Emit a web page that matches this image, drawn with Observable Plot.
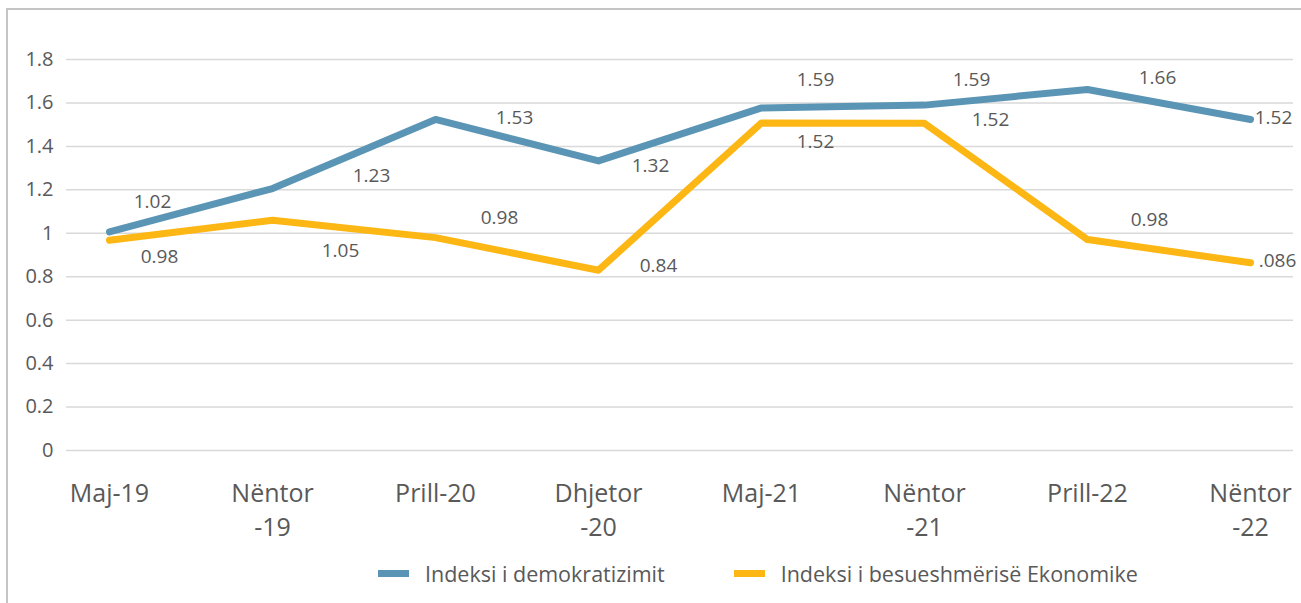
<!DOCTYPE html>
<html>
<head>
<meta charset="utf-8">
<script src="https://cdn.jsdelivr.net/npm/d3@7"></script>
<script src="https://cdn.jsdelivr.net/npm/@observablehq/plot@0.6"></script>
<style>
html, body { margin: 0; padding: 0; background: #fff; overflow: hidden; }
#wrap { position: relative; width: 1301px; height: 603px; overflow: hidden; font-family: "Open Sans", sans-serif; }
#frame { position: absolute; left: 6px; top: 8px; width: 1330px; height: 640px; border: 2.5px solid #c4c4c4; box-sizing: border-box; }
#chart { position: absolute; left: 0; top: 0; }
#legend { position: absolute; left: 378px; top: 559px; height: 28px; display: flex; align-items: center; font-size: 21.5px; color: #595959; white-space: nowrap; }
#legend .sw { width: 31px; height: 7px; display: inline-block; }
</style>
</head>
<body>
<div id="wrap">
  <div id="frame"></div>
  <div id="chart"></div>
  <div id="legend"></div>
</div>
<script>
// ---- data ----
const categories = ["Maj-19", "Nëntor\n-19", "Prill-20", "Dhjetor\n-20", "Maj-21", "Nëntor\n-21", "Prill-22", "Nëntor\n-22"];
const seriesNames = ["Indeksi i demokratizimit", "Indeksi i besueshmërisë Ekonomike"];
const demokratizimi = [1.006, 1.206, 1.524, 1.333, 1.577, 1.59, 1.662, 1.524];
const besueshmeria = [0.968, 1.06, 0.98, 0.83, 1.508, 1.506, 0.971, 0.864];
const demokratizimiLabels = ["1.02", "1.23", "1.53", "1.32", "1.59", "1.59", "1.66", "1.52"];
const besueshmeriaLabels = ["0.98", "1.05", "0.98", "0.84", "1.52", "1.52", "0.98", ".086"];
const yTicks = [0, 0.2, 0.4, 0.6, 0.8, 1, 1.2, 1.4, 1.6, 1.8];
const yTickLabels = ["0", "0.2", "0.4", "0.6", "0.8", "1", "1.2", "1.4", "1.6", "1.8"];

// ---- layout / style (kept apart from data) ----
const colors = ["#5b95b5", "#fdb714"];
const labelOffsets = [
  { dx: [43, 99, 79, 52, 54, 47, 70, 23], dy: [-30, -13, -2, 5, -28, -25, -12, -2] },
  { dx: [50, 68, 64, 60, 54, 66, 62, 27], dy: [17, 31, -20, -4, 19, -3, -20, -2] }
];

const seriesValues = [demokratizimi, besueshmeria];
const seriesLabels = [demokratizimiLabels, besueshmeriaLabels];

const rows = [];
seriesValues.forEach((vals, s) => vals.forEach((v, i) => rows.push({ cat: categories[i], value: v, series: seriesNames[s] })));

const labelMarks = [];
seriesValues.forEach((vals, s) => {
  vals.forEach((v, i) => {
    labelMarks.push(Plot.text([i], {
      x: d => categories[d],
      y: d => seriesValues[s][d],
      text: d => seriesLabels[s][d],
      dx: labelOffsets[s].dx[i],
      dy: labelOffsets[s].dy[i],
      fontSize: 19,
      fill: "#595959"
    }));
  });
});

const chart = Plot.plot({
  width: 1301,
  height: 545,
  marginLeft: 66,
  marginRight: 8,
  marginTop: 59,
  marginBottom: 95,
  style: { fontFamily: "Open Sans, sans-serif", color: "#595959", background: "transparent", overflow: "visible" },
  x: { type: "point", domain: categories, padding: 0.257, label: null },
  y: { domain: [0, 1.8], label: null },
  color: { domain: seriesNames, range: colors },
  marks: [
    Plot.gridY(yTicks, { stroke: "#d9d9d9", strokeOpacity: 1, strokeWidth: 1.5 }),
    Plot.axisY(yTicks, { tickSize: 0, tickPadding: 13, fontSize: 20, fill: "#595959", tickFormat: d => yTickLabels[yTicks.indexOf(d)], label: null }),
    Plot.axisX({ tickSize: 0, tickPadding: 27, fontSize: 25, lineHeight: 1.36, fill: "#595959", label: null }),
    Plot.line(rows, { x: "cat", y: "value", z: "series", stroke: "series", strokeWidth: 7, strokeLinecap: "round", strokeLinejoin: "round" }),
    ...labelMarks
  ]
});
document.getElementById("chart").appendChild(chart);

// ---- legend ----
const legend = document.getElementById("legend");
seriesNames.forEach((name, s) => {
  const sw = document.createElement("span");
  sw.className = "sw";
  sw.style.background = colors[s];
  sw.style.marginRight = "16px";
  if (s > 0) sw.style.marginLeft = "69px";
  legend.appendChild(sw);
  const t = document.createElement("span");
  t.textContent = name;
  legend.appendChild(t);
});
</script>
</body>
</html>
